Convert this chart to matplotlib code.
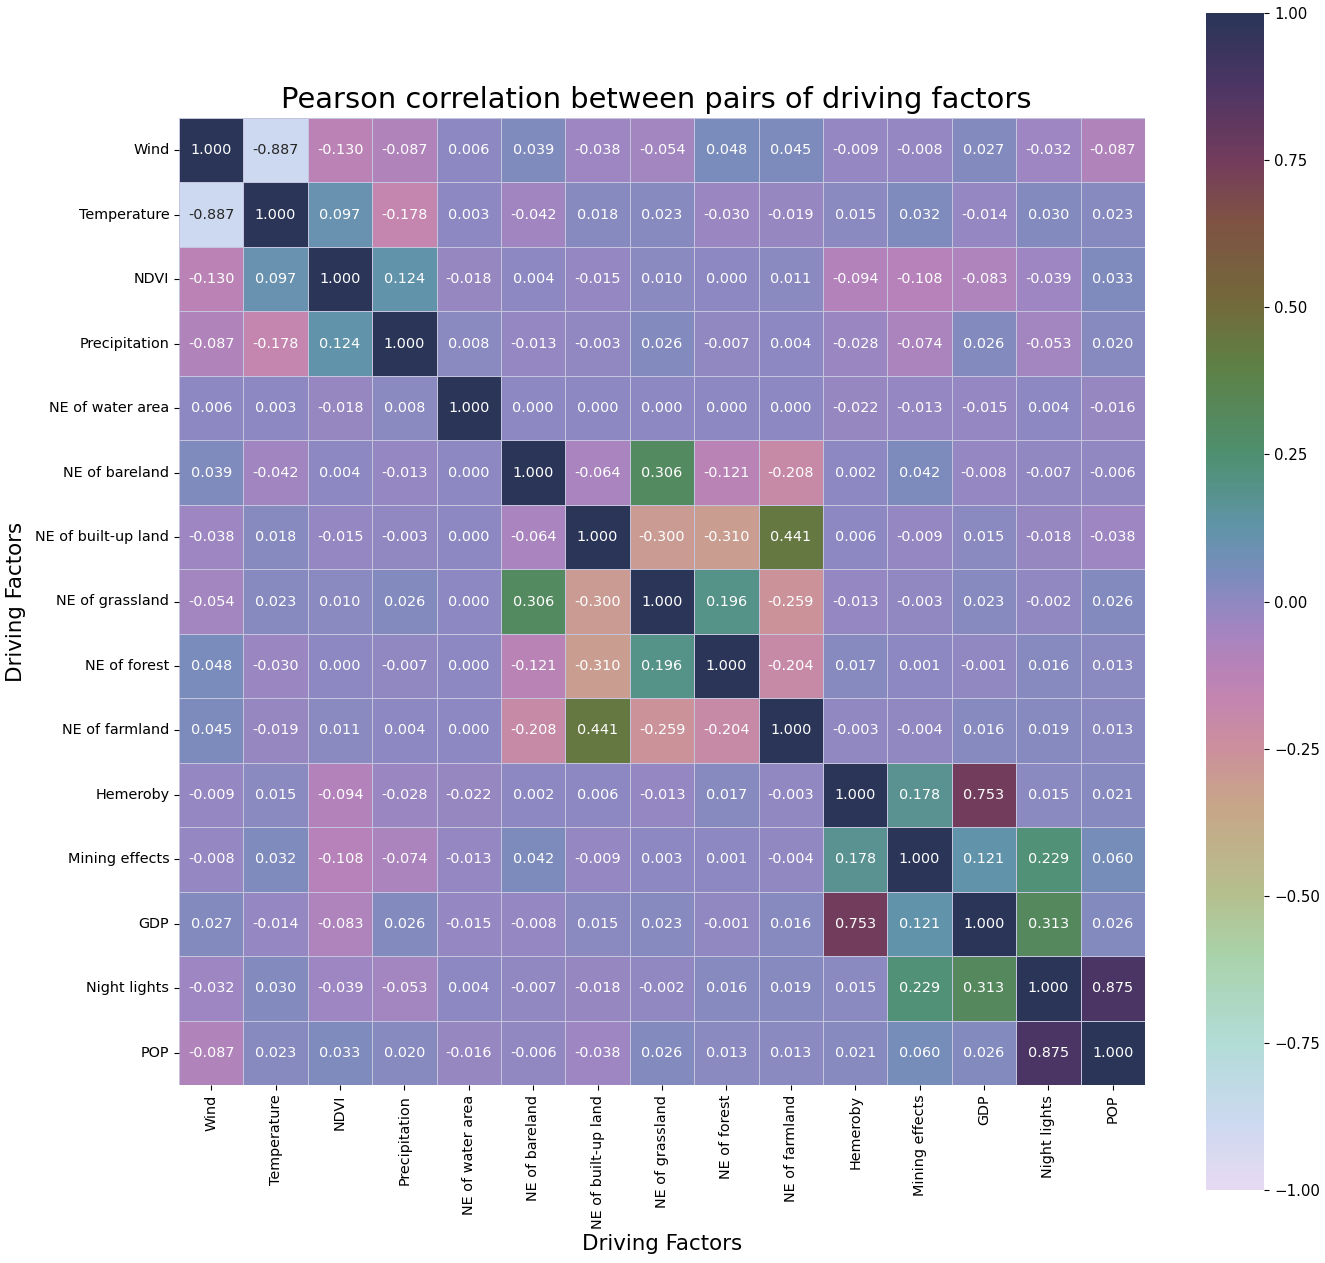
import pandas as pd
import seaborn as sns
import matplotlib
matplotlib.use("Agg")
import matplotlib.pyplot as plt
from matplotlib.colors import LinearSegmentedColormap

factors = ["Wind", "Temperature", "NDVI", "Precipitation", "NE of water area",
           "NE of bareland", "NE of built-up land", "NE of grassland", "NE of forest",
           "NE of farmland", "Hemeroby", "Mining effects", "GDP", "Night lights", "POP"]

# Correlation rows
wind = [1.000, -0.887, -0.130, -0.087, 0.006, 0.039, -0.038, -0.054, 0.048, 0.045, -0.009, -0.008, 0.027, -0.032, -0.087]
temperature = [-0.887, 1.000, 0.097, -0.178, 0.003, -0.042, 0.018, 0.023, -0.030, -0.019, 0.015, 0.032, -0.014, 0.030, 0.023]
ndvi = [-0.130, 0.097, 1.000, 0.124, -0.018, 0.004, -0.015, 0.010, 0.000, 0.011, -0.094, -0.108, -0.083, -0.039, 0.033]
precipitation = [-0.087, -0.178, 0.124, 1.000, 0.008, -0.013, -0.003, 0.026, -0.007, 0.004, -0.028, -0.074, 0.026, -0.053, 0.020]
water = [0.006, 0.003, -0.018, 0.008, 1.000, 0.000, 0.000, 0.000, 0.000, 0.000, -0.022, -0.013, -0.015, 0.004, -0.016]
bareland = [0.039, -0.042, 0.004, -0.013, 0.000, 1.000, -0.064, 0.306, -0.121, -0.208, 0.002, 0.042, -0.008, -0.007, -0.006]
builtup = [-0.038, 0.018, -0.015, -0.003, 0.000, -0.064, 1.000, -0.300, -0.310, 0.441, 0.006, -0.009, 0.015, -0.018, -0.038]
grassland = [-0.054, 0.023, 0.010, 0.026, 0.000, 0.306, -0.300, 1.000, 0.196, -0.259, -0.013, -0.003, 0.023, -0.002, 0.026]
forest = [0.048, -0.030, 0.000, -0.007, 0.000, -0.121, -0.310, 0.196, 1.000, -0.204, 0.017, 0.001, -0.001, 0.016, 0.013]
farmland = [0.045, -0.019, 0.011, 0.004, 0.000, -0.208, 0.441, -0.259, -0.204, 1.000, -0.003, -0.004, 0.016, 0.019, 0.013]
hemeroby = [-0.009, 0.015, -0.094, -0.028, -0.022, 0.002, 0.006, -0.013, 0.017, -0.003, 1.000, 0.178, 0.753, 0.015, 0.021]
mining = [-0.008, 0.032, -0.108, -0.074, -0.013, 0.042, -0.009, 0.003, 0.001, -0.004, 0.178, 1.000, 0.121, 0.229, 0.060]
gdp = [0.027, -0.014, -0.083, 0.026, -0.015, -0.008, 0.015, 0.023, -0.001, 0.016, 0.753, 0.121, 1.000, 0.313, 0.026]
night_lights = [-0.032, 0.030, -0.039, -0.053, 0.004, -0.007, -0.018, -0.002, 0.016, 0.019, 0.015, 0.229, 0.313, 1.000, 0.875]
pop = [-0.087, 0.023, 0.033, 0.020, -0.016, -0.006, -0.038, 0.026, 0.013, 0.013, 0.021, 0.060, 0.026, 0.875, 1.000]

rows = [wind, temperature, ndvi, precipitation, water, bareland, builtup, grassland,
        forest, farmland, hemeroby, mining, gdp, night_lights, pop]
corr = pd.DataFrame(rows, index=factors, columns=factors)

# Colormap sampled from the colorbar, bottom to top
stops = [-1.0, -0.887, -0.75, -0.6, -0.5, -0.35, -0.25, -0.18, -0.1, -0.05, 0.0, 0.05, 0.12, 0.25, 0.4, 0.5, 0.65, 0.75, 0.88, 1.0]
colors = ["#e6daf2", "#ccd9f0", "#b1dcd6", "#a9d2a8", "#b5bf8e", "#c8a688", "#cb8f9c", "#c586ad", "#b582ba", "#a385c0",
          "#8f88c2", "#7a8cbb", "#6194ab", "#4e9070", "#5d8146", "#726b3b", "#7f5244", "#743c5c", "#4b3564", "#2a3558"]
cmap = LinearSegmentedColormap.from_list("helix", [((s + 1) / 2, c) for s, c in zip(stops, colors)])

W, H = 1325, 1263
fig = plt.figure(figsize=(W / 100, H / 100), dpi=100)
ax = fig.add_axes([179 / W, 1 - 1085 / H, 966 / W, 967 / H])
cax = fig.add_axes([1206 / W, 1 - 1190 / H, 58 / W, 1177 / H])

sns.heatmap(corr, vmin=-1, vmax=1, cmap=cmap, annot=True, fmt=".3f", linewidths=0.5,
            linecolor="#c4c4dc", square=False, ax=ax, cbar_ax=cax, annot_kws={"size": 10.4})
cax.tick_params(labelsize=10.8, pad=4)
ax.tick_params(labelsize=10.4)
plt.setp(ax.get_xticklabels(), rotation=90)
plt.setp(ax.get_yticklabels(), rotation=0)

ax.set_title("Pearson correlation between pairs of driving factors", fontsize=20.8, x=0.494, pad=7)
ax.set_xlabel("Driving Factors", fontsize=15.4)
ax.set_ylabel("Driving Factors", fontsize=15.4)
ax.xaxis.set_label_coords(0.5, (1085 - 1244) / 967, transform=ax.transAxes)
ax.yaxis.set_label_coords((16 - 179) / 966, 0.5, transform=ax.transAxes)
ax.xaxis.label.set_verticalalignment("center")
ax.yaxis.label.set_verticalalignment("center")

fig.savefig("out.png", dpi=100)
